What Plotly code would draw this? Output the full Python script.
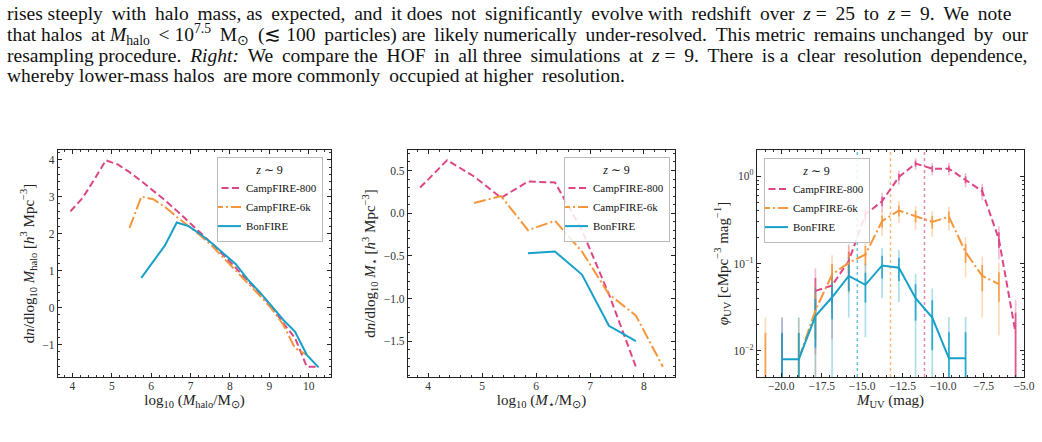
import math
import plotly.graph_objects as go

# ---------------- data ----------------
# Left: halo mass function
mhalo_bins = [3.95, 4.25, 4.55, 4.85, 5.15, 5.45, 5.75, 6.05, 6.35, 6.65, 6.95,
              7.25, 7.55, 7.85, 8.15, 8.45, 8.75, 9.05, 9.35, 9.65, 9.95, 10.25]
hmf_camp800 = [2.60, 2.95, 3.45, 3.98, 3.87, 3.66, 3.42, 3.17, 2.90, 2.62, 2.33,
               2.02, 1.72, 1.40, 1.07, 0.72, 0.40, 0.04, -0.42, -0.82, -1.60, -1.60]
hmf_camp6k = [None, None, None, None, None, 2.15, 3.00, 2.93, 2.72, 2.45, 2.20,
              1.95, 1.66, 1.32, 0.98, 0.66, 0.33, -0.02, -0.46, -1.10, -1.28, None]
hmf_bonfire = [None, None, None, None, None, None, 0.80, 1.23, 1.68, 2.30, 2.20,
               1.98, 1.73, 1.45, 1.17, 0.76, 0.42, 0.05, -0.33, -0.65, -1.28, -1.62]

# Middle: stellar mass function
mstar_bins = [3.85, 4.35, 4.85, 5.35, 5.85, 6.35, 6.85, 7.35, 7.85, 8.35]
smf_camp800 = [0.30, 0.62, 0.43, 0.18, 0.37, 0.36, -0.20, -0.95, -1.80, None]
smf_camp6k = [None, None, 0.12, 0.20, -0.20, -0.09, -0.45, -0.95, -1.20, -1.80]
smf_bonfire = [None, None, None, None, -0.47, -0.45, -0.72, -1.32, -1.50, None]

# Right: UV luminosity function
muv_bins = [-20.98, -19.95, -18.92, -17.89, -16.86, -15.83, -14.80, -13.77,
            -12.73, -11.70, -10.67, -9.64, -8.61, -7.58, -6.55, -5.52]
uvlf_camp800 = [0, 0.008, 0, 0.0485, 0.056, 0.107, 0.365, 0.518,
                0.98, 1.40, 1.22, 1.22, 0.916, 0.674, 0.189, 0.016]
uvlf_camp6k = [0.008, 0, 0.008, 0.029, 0.075, 0.102, 0.127, 0.306,
               0.405, 0.349, 0.300, 0.343, 0.135, 0.072, 0.058, 0]
uvlf_bonfire = [0, 0.008, 0.008, 0.025, 0.041, 0.072, 0.057, 0.095,
                0.0896, 0.040, 0.024, 0.0082, 0.0082, 0, 0, 0]
uvlf_unit = 0.008          # phi corresponding to one object (Poisson errors)
muv_limits = [-15.3, -13.25, -11.15]   # BonFIRE, CampFIRE-6k, CampFIRE-800

names = ["CampFIRE-800", "CampFIRE-6k", "BonFIRE"]
colors = ["#dc4685", "#f5963a", "#17a1c9"]
light = ["rgba(220,70,133,0.35)", "rgba(245,150,58,0.35)", "rgba(23,161,201,0.35)"]
dark = ["rgba(220,70,133,0.85)", "rgba(245,150,58,0.85)", "rgba(23,161,201,0.85)"]
dashes = ["7px,3.5px", "12px,3px,2px,3px", "solid"]

# caption text above the figure (lines of the paper page)
caption = [
    "rises steeply with halo mass, as expected, and it does not significantly evolve with redshift over <i>z</i> = 25 to <i>z</i> = 9. We note",
    "that halos at <i>M</i><sub>halo</sub> &lt; 10<sup>7.5</sup> M<sub>⊙</sub> (≲ 100 particles) are likely numerically under-resolved. This metric remains unchanged by our",
    "resampling procedure. <i>Right:</i> We compare the HOF in all three simulations at <i>z</i> = 9. There is a clear resolution dependence,",
    "whereby lower-mass halos are more commonly occupied at higher resolution.",
]
caption_extra_spaces = [18, 11, 15, 3]   # thin spaces used to justify each line

# ---------------- layout geometry ----------------
W, H = 1042, 442
L, R, T, B = 58, 18, 150, 65
PW, PH = W - L - R, H - T - B


def px(xp):
    return (xp - L) / PW


def py(yp):
    return (H - B - yp) / PH


SERIF = "Liberation Serif"
fig = go.Figure()

# left panel
for nm, vals, c, d in zip(names, [hmf_camp800, hmf_camp6k, hmf_bonfire], colors, dashes):
    fig.add_trace(go.Scatter(x=mhalo_bins, y=vals, mode="lines", name=nm,
                             line=dict(color=c, width=2, dash=d),
                             xaxis="x", yaxis="y", legend="legend"))
# middle panel
for nm, vals, c, d in zip(names, [smf_camp800, smf_camp6k, smf_bonfire], colors, dashes):
    fig.add_trace(go.Scatter(x=mstar_bins, y=vals, mode="lines", name=nm,
                             line=dict(color=c, width=2, dash=d),
                             xaxis="x2", yaxis="y2", legend="legend2"))

# right panel: error bars first
floor = 1e-4
for vals, lc, dc in zip([uvlf_camp800, uvlf_camp6k, uvlf_bonfire], light, dark):
    xs, ys, up1, lo1, up2, lo2 = [], [], [], [], [], []
    for xv, v in zip(muv_bins, vals):
        if v and v > 0:
            n = v / uvlf_unit
            s = math.sqrt(n) * uvlf_unit
            xs.append(xv)
            ys.append(v)
            up1.append(s)
            lo1.append(v - max(v - s, floor))
            up2.append(2 * s)
            lo2.append(v - max(v - 2 * s, floor))
    for up, lo, col in [(up2, lo2, lc), (up1, lo1, dc)]:
        fig.add_trace(go.Scatter(x=xs, y=ys, mode="markers",
                                 marker=dict(size=1, opacity=0),
                                 error_y=dict(type="data", symmetric=False, array=up,
                                              arrayminus=lo, color=col, thickness=1.7,
                                              width=0),
                                 showlegend=False, hoverinfo="skip",
                                 xaxis="x3", yaxis="y3"))

for nm, vals, c, d in zip(names, [uvlf_camp800, uvlf_camp6k, uvlf_bonfire], colors, dashes):
    yv = [v if v else None for v in vals]
    fig.add_trace(go.Scatter(x=muv_bins, y=yv, mode="lines", name=nm,
                             line=dict(color=c, width=2, dash=d),
                             connectgaps=False,
                             xaxis="x3", yaxis="y3", legend="legend3"))

# vertical dotted limits
for xv, c in zip(muv_limits, [colors[2], colors[1], colors[0]]):
    fig.add_shape(type="line", x0=xv, x1=xv, y0=0, y1=1, xref="x3", yref="y3 domain",
                  line=dict(color=c, width=1.5, dash="dot"), opacity=0.65, layer="below")

tickfont = dict(family=SERIF, size=11.5, color="#333")
titlefont = dict(family=SERIF, size=15, color="#222")


def axis(**kw):
    base = dict(showline=True, linecolor="#222", linewidth=1.3, mirror="ticks",
                ticks="inside", ticklen=4, tickwidth=1, tickcolor="#222",
                showgrid=False, zeroline=False, automargin=False, tickfont=tickfont,
                minor=dict(ticks="inside", ticklen=2, tickwidth=0.8, tickcolor="#333",
                           showgrid=False))
    base.update(kw)
    return base


legend_common = dict(font=dict(family=SERIF, size=11, color="#111"),
                     bgcolor="rgba(255,255,255,0.85)", bordercolor="#bbb",
                     borderwidth=1, tracegroupgap=0, yanchor="top", indentation=-12,
                     title=dict(text="<i>z</i> ∼ 9", side="top center",
                                font=dict(family=SERIF, size=12, color="#111")))

fig.update_layout(
    width=W, height=H, margin=dict(l=L, r=R, t=T, b=B),
    paper_bgcolor="white", plot_bgcolor="white", showlegend=True,
    xaxis=axis(domain=[0, px(331)], range=[3.635, 10.565], dtick=1, tick0=4,
               minor_dtick=0.2, ticklabelstandoff=-2,
               title=dict(text="log<sub>10</sub> (<i>M</i><sub>halo</sub>/M<sub>⊙</sub>)",
                          font=titlefont, standoff=0)),
    yaxis=axis(domain=[0, 1], range=[-1.88, 4.26], dtick=1, tick0=0, minor_dtick=0.2,
               title=dict(text="d<i>n</i>/dlog<sub>10</sub> <i>M</i><sub>halo</sub> [<i>h</i><sup>3</sup> Mpc<sup>−3</sup>]",
                          font=titlefont, standoff=4)),
    xaxis2=axis(domain=[px(408), px(675)], range=[3.625, 8.575], dtick=1, tick0=4,
                minor_dtick=0.2, anchor="y2", ticklabelstandoff=-2,
                title=dict(text="log<sub>10</sub> (<i>M</i><sub>⋆</sub>/M<sub>⊙</sub>)",
                           font=titlefont, standoff=0)),
    yaxis2=axis(domain=[0, 1], range=[-1.92, 0.74], dtick=0.5, tick0=0, minor_dtick=0.1,
                tickformat=".1f", anchor="x2",
                title=dict(text="d<i>n</i>/dlog<sub>10</sub> <i>M</i><sub>⋆</sub> [<i>h</i><sup>3</sup> Mpc<sup>−3</sup>]",
                           font=titlefont, standoff=4)),
    xaxis3=axis(domain=[px(757), 1], range=[-21.5, -5], dtick=2.5, tick0=-20,
                minor_dtick=0.5, tickformat=".1f", anchor="y3", ticklabelstandoff=-2,
                title=dict(text="<i>M</i><sub>UV</sub> (mag)", font=titlefont, standoff=0)),
    yaxis3=axis(domain=[0, 1], type="log", range=[math.log10(0.005), math.log10(2)],
                tickmode="array", tickvals=[0.01, 0.1, 1],
                ticktext=["10<sup>−2</sup>", "10<sup>−1</sup>", "10<sup>0</sup>"],
                minor=dict(ticks="inside", ticklen=2, tickwidth=0.8, tickcolor="#333",
                           tickmode="array",
                           tickvals=[0.006, 0.007, 0.008, 0.009, 0.02, 0.03, 0.04, 0.05,
                                     0.06, 0.07, 0.08, 0.09, 0.2, 0.3, 0.4, 0.5, 0.6,
                                     0.7, 0.8, 0.9, 2]),
                anchor="x3",
                title=dict(text="<i>φ</i><sub>UV</sub> [cMpc<sup>−3</sup> mag<sup>−1</sup>]",
                           font=titlefont, standoff=1)),
    legend=dict(legend_common, x=px(323), xanchor="right", y=py(157)),
    legend2=dict(legend_common, x=px(670), xanchor="right", y=py(157)),
    legend3=dict(legend_common, x=px(764), xanchor="left", y=py(158)),
)


def justify(line, n_extra):
    """Spread extra thin spaces over the word gaps of a line."""
    words = line.split(" ")
    gaps = len(words) - 1
    out = words[0]
    for i in range(gaps):
        add = (i + 1) * n_extra // gaps - i * n_extra // gaps
        out += " " + "\u2009" * add + words[i + 1]
    return out


caption_y = [13.5, 34.5, 55.5, 76]
for txt, n_extra, yy in zip(caption, caption_extra_spaces, caption_y):
    fig.add_annotation(text=justify(txt, n_extra), xref="paper", yref="paper",
                       x=px(5), y=py(yy), xanchor="left", yanchor="middle",
                       showarrow=False,
                       font=dict(family=SERIF, size=19.5, color="#111"))

fig.write_html("out.html")
